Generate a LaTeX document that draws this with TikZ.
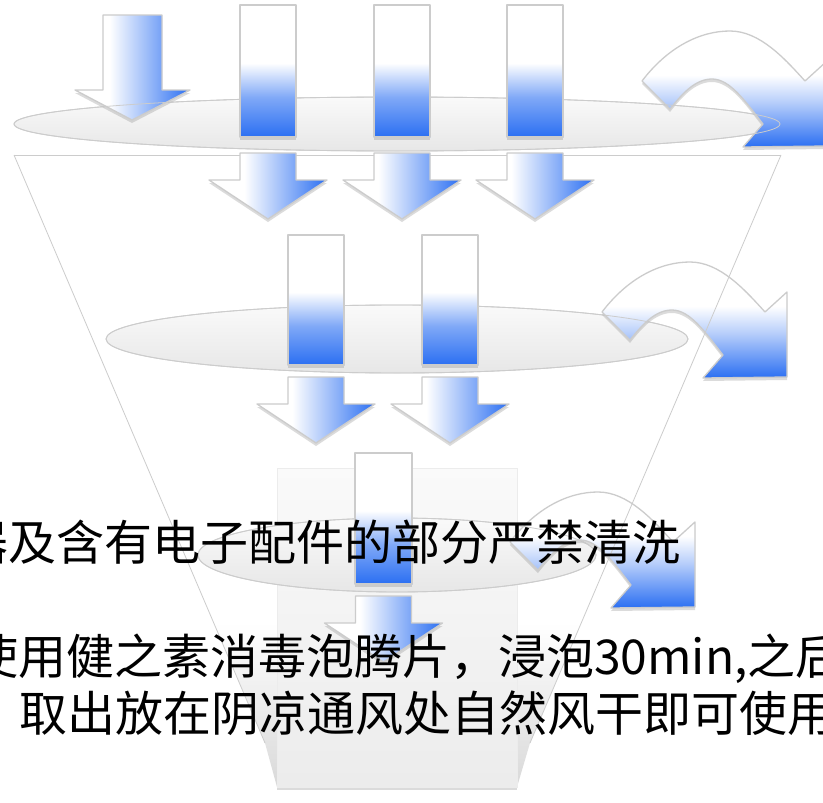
\documentclass[tikz,border=0pt]{standalone}
\usepackage{fontspec}
\usepackage{xcolor}
\usetikzlibrary{shadows}
\newfontfamily\cjk{Noto Sans CJK SC}
\definecolor{flowblue}{RGB}{43,111,242}
\definecolor{rimgray}{RGB}{204,204,204}
\colorlet{flowmid}{flowblue!60!white}
\colorlet{flowpale}{flowblue!35!white}
\colorlet{conegray}{gray!30}

% shadings: the path box covers 25bp..75bp
\pgfdeclareverticalshading{barshade}{100bp}{color(0bp)=(flowblue); color(25bp)=(flowblue);
  color(40bp)=(flowmid); color(53bp)=(white); color(100bp)=(white)}
\pgfdeclarehorizontalshading{dropshade}{100bp}{color(0bp)=(white); color(40bp)=(white);
  color(75bp)=(flowblue); color(100bp)=(flowblue)}
\pgfdeclareverticalshading{bendshade}{100bp}{color(0bp)=(flowblue); color(25bp)=(flowblue);
  color(44bp)=(flowpale); color(56bp)=(white); color(100bp)=(white)}
\pgfdeclareverticalshading{coneshade}{100bp}{color(0bp)=(conegray); color(25bp)=(conegray);
  color(38bp)=(white); color(100bp)=(white)}

\tikzset{
  rim/.style={draw=rimgray, line width=1.3pt, line join=round},
  softshadow/.style={drop shadow={opacity=0.28, shadow xshift=0pt, shadow yshift=-3pt}},
  disc/.style={draw=rimgray, line width=0.9pt, top color=gray!4, bottom color=gray!19},
  barfill/.style={rim, softshadow, shade, shading=barshade},
  dropfill/.style={rim, softshadow, shade, shading=dropshade},
  bendfill/.style={rim, softshadow, shade, shading=bendshade},
  edge/.style={draw=rimgray, line width=0.8pt},
  note/.style={font=\cjk\fontsize{48}{58}\selectfont, anchor=base west, inner sep=0pt},
  pics/fallarrow/.style={code={
    \path[dropfill] (-28,0) -- (28,0) -- (28,27) -- (59,27) -- (0,66)
      -- (-59,27) -- (-28,27) -- cycle;
  }},
  pics/sidearrow/.style={code={
    \path[bendfill] (0,0) .. controls (26,-34) and (58,-50) .. (88,-50)
      .. controls (118,-50) and (143,-22) .. (163,0) -- (185,-20) -- (185,65)
      -- (101,66) -- (121,43) .. controls (103,20) and (88,-2) .. (70,-2)
      .. controls (53,-2) and (40,13) .. (28,28) -- cycle;
  }},
}

\begin{document}
\begin{tikzpicture}[x=1pt, y=-1pt]
\useasboundingbox (0,0) rectangle (823,803);
\clip (0,0) rectangle (823,803);
\fill[white] (0,0) rectangle (823,803);

% funnel body and neck
\path[shade, shading=coneshade] (14,155) -- (781,155) -- (530,743) -- (517,787)
  -- (277,787) -- (265,743) -- cycle;
\path[draw=gray!15, top color=gray!4, bottom color=gray!15, softshadow]
  (277,468) rectangle (517,787);

% filter discs
\path[disc] (397,124) ellipse [x radius=383, y radius=27];
\path[disc] (397,339) ellipse [x radius=291, y radius=34];
\path[disc] (397,555) ellipse [x radius=199, y radius=37];

% deflected flows
\path[dropfill] (103,15) -- (162,15) -- (162,90) -- (190,90) -- (132,120)
  -- (75,90) -- (103,90) -- cycle;
\pic at (642,81) {sidearrow};
\pic at (602,312) {sidearrow};
\pic at (510,542) {sidearrow};

% disc rims and funnel walls on top
\draw[edge] (397,124) ellipse [x radius=383, y radius=27];
\draw[edge] (397,339) ellipse [x radius=291, y radius=34];
\draw[edge] (397,555) ellipse [x radius=199, y radius=37];
\draw[edge] (14,155) -- (781,155);
\draw[edge] (14,155) -- (265,743);
\draw[edge] (781,155) -- (530,743);

% flows passing the filters
\foreach \cx in {268,402,535} {
  \path[barfill] (\cx-28,5) rectangle (\cx+28,137);
  \pic at (\cx,153) {fallarrow};
}
\foreach \cx in {316,450} {
  \path[barfill] (\cx-28,235) rectangle (\cx+28,365);
  \pic at (\cx,377) {fallarrow};
}
\path[barfill] (355,453) rectangle (412,584);
\pic at (383.5,596) {fallarrow};

% notes
\node[note] (warn) at (-40,560) {器及含有电子配件的部分严禁清洗};
\node[note] (soak) at (-30,674) {使用健之素消毒泡腾片，浸泡30min,之后};
\node[note] (dry) at (19,731) {取出放在阴凉通风处自然风干即可使用};
\end{tikzpicture}
\end{document}
